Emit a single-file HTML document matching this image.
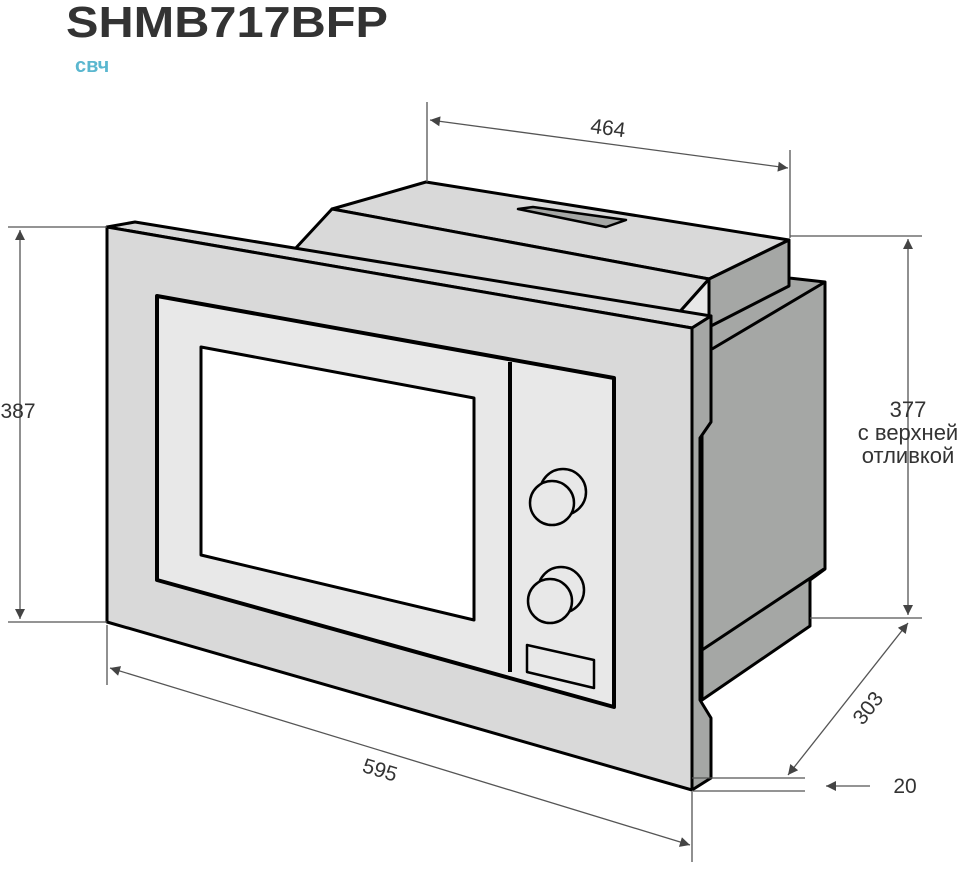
<!DOCTYPE html><html><head><meta charset="utf-8"><style>body{margin:0;background:#fff;}svg{display:block}</style></head><body>
<svg width="973" height="875" viewBox="0 0 973 875" xmlns="http://www.w3.org/2000/svg" font-family="Liberation Sans, DejaVu Sans, sans-serif">
<defs><marker id="a" viewBox="0 0 10 10" refX="10" refY="5" markerWidth="14" markerHeight="10" orient="auto-start-reverse" markerUnits="userSpaceOnUse"><path d="M0,0L10,5L0,10z" fill="#444"/></marker></defs>
<text x="66" y="37" font-size="44" font-weight="bold" fill="#333" textLength="322" lengthAdjust="spacingAndGlyphs">SHMB717BFP</text>
<text x="75" y="72" font-size="20" font-weight="bold" fill="#5ab7cf">свч</text>
<g stroke="#000" stroke-width="3" stroke-linejoin="round">
<polygon points="332,209 426,182 789,240 709,279" fill="#d9d9d9"/>
<polygon points="709,279 789,240 789,278 825,282 825,569 810,580 810,626 702,700 702,330 709,324" fill="#a5a7a5"/>
<polyline points="709,327 789,286 789,278" fill="none"/>
<polyline points="712,349 825,282" fill="none"/>
<polyline points="702,650 824,569" fill="none"/>
<polygon points="294,250 332,209 709,279 676,316" fill="#d9d9d9"/>
<polygon points="676,316 709,279 709,324" fill="#e8e8e8"/>
<polygon points="518,209 533,207 626,220 606,227" fill="#a5a7a5" stroke-width="2.5"/>
<polygon points="107,227 135,222 711,316 692,328" fill="#d9d9d9"/>
<polygon points="107,227 692,328 692,790 107,622" fill="#d9d9d9"/>
<polygon points="692,328 711,316 711,422 700,438 700,700 711,718 711,778 692,790" fill="#a5a7a5"/>
<polygon points="157,296 614,378 614,707 157,580" fill="#e8e8e8" stroke-width="4"/>
<line x1="510" y1="362" x2="510" y2="672" stroke-width="4"/>
<polygon points="201,347 474,398 474,620 201,555" fill="#fff" stroke-width="3"/>
<polygon points="527,645 594,660 594,688 527,672" fill="#e8e8e8" stroke-width="2.5"/>
<g fill="#e8e8e8" stroke-width="2.5">
<circle cx="563" cy="492" r="23"/><circle cx="552" cy="503" r="22"/>
<circle cx="561" cy="590" r="23"/><circle cx="550" cy="601" r="22"/>
</g>
</g>
<g stroke="#555" stroke-width="1.3" fill="none">
<line x1="427" y1="102" x2="427" y2="182"/><line x1="790" y1="150" x2="790" y2="238"/>
<line x1="430" y1="120" x2="788" y2="168" marker-start="url(#a)" marker-end="url(#a)"/>
<line x1="8" y1="227" x2="107" y2="227"/><line x1="8" y1="622" x2="107" y2="622"/>
<line x1="20" y1="230" x2="20" y2="619" marker-start="url(#a)" marker-end="url(#a)"/>
<line x1="790" y1="236" x2="922" y2="236"/><line x1="810" y1="618" x2="922" y2="618"/>
<line x1="908" y1="239" x2="908" y2="615" marker-start="url(#a)" marker-end="url(#a)"/>
<line x1="908" y1="623" x2="788" y2="775" marker-start="url(#a)" marker-end="url(#a)"/>
<line x1="107" y1="625" x2="107" y2="685"/><line x1="692" y1="792" x2="692" y2="862"/>
<line x1="110" y1="668" x2="690" y2="845" marker-start="url(#a)" marker-end="url(#a)"/>
<line x1="692" y1="778" x2="805" y2="778"/><line x1="692" y1="791" x2="805" y2="791"/>
<line x1="870" y1="786" x2="826" y2="786" marker-end="url(#a)"/>
</g>
<g fill="#333" font-size="21">
<text x="608" y="135" text-anchor="middle" transform="rotate(7.6 608 128)">464</text>
<text x="18" y="418" text-anchor="middle">387</text>
<text x="908" y="417" text-anchor="middle" font-size="22">377</text>
<text x="908" y="440" text-anchor="middle" font-size="22">с верхней</text>
<text x="908" y="463" text-anchor="middle" font-size="22">отливкой</text>
<text x="868" y="715" text-anchor="middle" transform="rotate(-52 868 708)">303</text>
<text x="380" y="777" text-anchor="middle" transform="rotate(17 380 770)">595</text>
<text x="905" y="793" text-anchor="middle">20</text>
</g>
</svg></body></html>
